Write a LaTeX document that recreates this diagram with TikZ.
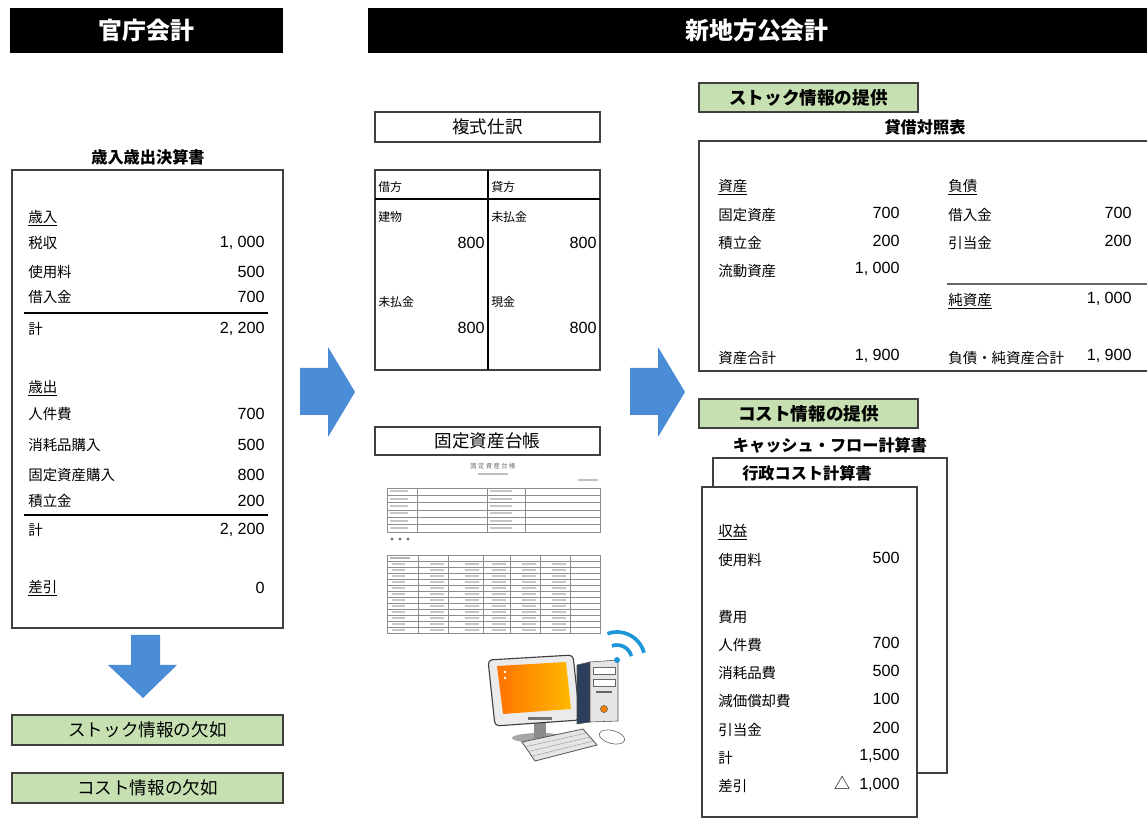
\documentclass[tikz,border=0pt]{standalone}
\usepackage{fontspec}
\setmainfont{Noto Sans CJK JP}
\newfontfamily\numfont{Liberation Sans}
\newfontfamily\jpfont{Noto Sans CJK JP}
\usetikzlibrary{calc}

\definecolor{infogreen}{RGB}{198,224,178}
\definecolor{arrowblue}{RGB}{74,141,214}
\definecolor{wifiblue}{RGB}{28,150,214}
\definecolor{towernavy}{RGB}{44,62,92}

\tikzset{
  bar/.style={text=white, font=\bfseries\fontsize{17}{17}\selectfont},
  sheet/.style={draw=black!75, line width=1.1pt, fill=white},
  tag/.style={draw=black!75, line width=1.1pt, fill=infogreen},
  tagtext/.style={font=\fontsize{12.5}{12.5}\selectfont},
  caption/.style={font=\bfseries\fontsize{11.5}{11.5}\selectfont},
  item/.style={anchor=west, inner sep=0, font=\fontsize{10.3}{10.3}\selectfont},
  jitem/.style={anchor=west, inner sep=0, font=\fontsize{8.5}{8.5}\selectfont},
  amount/.style={anchor=east, inner sep=0, font=\numfont\fontsize{11.5}{11.5}\selectfont},
  grid line/.style={draw=black!45, line width=0.3pt},
}

\begin{document}
\begin{tikzpicture}[x=0.025cm, y=-0.025cm]
    \useasboundingbox (0,0) rectangle (1147,819);

    % headers
    \fill (10,8) rectangle (283,53);
    \node[bar] (kancho) at (146.5,30.5) {官庁会計};
    \fill (368,8) rectangle (1147,53);
    \node[bar] (shinchiho) at (757,30.5) {新地方公会計};

    % ---- left: cash basis statement
    \node[caption] (kessanTitle) at (148,157) {歳入歳出決算書};
    \draw[sheet] (12,170) rectangle (283,628);
    \node[item] (revHead) at (28,218) {\underline{歳入}};
    \node[item] (expHead) at (28,388) {\underline{歳出}};
    \foreach \y/\lab/\num [count=\i] in {243/税収/{1, 000}, 272/使用料/500, 297/借入金/700, 329/計/{2, 200},
        414/人件費/700, 445/消耗品購入/500, 475/固定資産購入/800, 501/積立金/200, 530/計/{2, 200}}
    {
        \node[item] (kl\i) at (28,\y) {\lab};
        \node[amount] (ka\i) at (265,\y) {\num};
    }
    \draw[line width=1pt] (24,313) -- (268,313);
    \draw[line width=1pt] (24,515) -- (268,515);
    \node[item] (sashihiki) at (28,588) {\underline{差引}};
    \node[amount] (zero) at (265,588) {0};

    \fill[arrowblue] (131,635) -- (160,635) -- (160,665) -- (177,665) -- (143,698)
        -- (108,665) -- (131,665) -- cycle;

    \draw[tag] (12,715) rectangle (283,745);
    \node[tagtext] (stockLack) at (147.5,730) {ストック情報の欠如};
    \draw[tag] (12,773) rectangle (283,803);
    \node[tagtext] (costLack) at (147.5,788) {コスト情報の欠如};

    % ---- arrows into the middle and right
    \fill[arrowblue] (300,368) -- (328,368) -- (328,347) -- (355,392) -- (328,437) -- (328,415) -- (300,415) -- cycle;
    \fill[arrowblue] (630,368) -- (658,368) -- (658,347) -- (685,392) -- (658,437) -- (658,415) -- (630,415) -- cycle;

    % ---- middle: journal entry
    \draw[sheet] (375,112) rectangle (600,142);
    \node[tagtext] (fukushiki) at (487.5,127) {複式仕訳};
    \draw[sheet, line width=0.9pt] (375,170) rectangle (600,370);
    \draw[line width=0.9pt] (375,199) -- (600,199);
    \draw[line width=0.9pt] (488,170) -- (488,370);
    \node[jitem] (kari) at (378,187) {借方};
    \node[jitem] (kashi) at (491,187) {貸方};
    \node[jitem] (tatemono) at (378,217) {建物};
    \node[amount] (k1) at (485,243) {800};
    \node[jitem] (mibarai1) at (491,217) {未払金};
    \node[amount] (s1) at (597,243) {800};
    \node[jitem] (mibarai2) at (378,302) {未払金};
    \node[amount] (k2) at (485,328) {800};
    \node[jitem] (genkin) at (491,302) {現金};
    \node[amount] (s2) at (597,328) {800};

    % fixed asset ledger
    \draw[sheet] (375,427) rectangle (600,455);
    \node[tagtext] (daicho) at (487.5,441) {固定資産台帳};
    \node[text=black!60, font=\fontsize{4.5}{4.5}\selectfont] (miniTitle) at (493,466) {固 定 資 産 台 帳};
    \fill[black!25] (478,473) rectangle (508,475);
    \fill[black!25] (578,479) rectangle (598,481);
    \draw[grid line] (387,488) rectangle (600,532);
    \foreach \k in {1,...,5}
        \draw[grid line] (387,488+7.33*\k) -- (600,488+7.33*\k);
    \foreach \x in {417,487,525}
        \draw[grid line] (\x,488) -- (\x,532);
    \foreach \k in {0,...,5} {
        \fill[black!22] (390,490.5+7.33*\k) rectangle (408,492.5+7.33*\k);
        \fill[black!22] (490,490.5+7.33*\k) rectangle (512,492.5+7.33*\k);
    }
    \foreach \x in {392,400,408}
        \fill[black!55] (\x,539) circle (1.6);
    \draw[grid line] (387,555) rectangle (600,633);
    \foreach \k in {1,...,12}
        \draw[grid line] (387,555+6*\k) -- (600,555+6*\k);
    \foreach \x in {418,448,483,510,540,570}
        \draw[grid line] (\x,555) -- (\x,633);
    \foreach \k in {1,...,12} {
        \fill[black!22] (392,557.5+6*\k) rectangle (405,559+6*\k);
        \foreach \x in {448,483,510,540,570}
            \fill[black!22] (\x-18,557.5+6*\k) rectangle (\x-4,559+6*\k);
    }
    \fill[black!30] (390,557.5) rectangle (410,559.5);

    % computer
    \fill[black!35] (540,738) ellipse (28 and 5);
    \fill[black!45] (534,722) rectangle (546,738);
    \filldraw[fill=black!8, draw=black!75, line width=0.8pt, rounded corners=3]
        (488,660) -- (573,655) -- (580,720) -- (495,726) -- cycle;
    \shade[left color=orange!90!red, right color=orange!55!yellow]
        (497,666) -- (566,662) -- (571,709) -- (503,714) -- cycle;
    \fill[white] (505,672) circle (1.4);
    \fill[white] (505,678) circle (1.4);
    \fill[black!55] (528,717) rectangle (552,720);
    \filldraw[fill=towernavy, draw=black!70] (577,665) -- (590,662) -- (590,722) -- (577,724) -- cycle;
    \filldraw[fill=black!10, draw=black!70] (590,662) -- (618,660) -- (618,721) -- (590,722) -- cycle;
    \filldraw[fill=white, draw=black!60] (593,667) rectangle (615,674);
    \filldraw[fill=white, draw=black!60] (593,679) rectangle (615,686);
    \fill[black!60] (596,691) rectangle (612,693);
    \filldraw[fill=orange, draw=black!60] (604,709) circle (3.6);
    \filldraw[fill=black!10, draw=black!65, line width=0.6pt]
        (522,742) -- (583,729) -- (597,745) -- (535,761) -- cycle;
    \foreach \t in {0.25,0.5,0.75}
        \draw[black!40, line width=0.3pt] ($(522,742)!\t!(535,761)$) -- ($(583,729)!\t!(597,745)$);
    \filldraw[fill=white, draw=black!65, rotate around={-15:(612,737)}] (612,737) ellipse (13 and 6.5);
    \fill[wifiblue] (617,660) circle (3);
    \draw[wifiblue, line width=2.6pt] (617,660) ++(-110:15) arc[start angle=-110, end angle=-15, radius=15];
    \draw[wifiblue, line width=2.6pt] (617,660) ++(-110:28) arc[start angle=-110, end angle=-15, radius=28];

    % ---- right: balance sheet
    \draw[tag] (699,83) rectangle (918,112);
    \node[tagtext, font=\bfseries\fontsize{12.5}{12.5}\selectfont] (stockInfo) at (808.5,97.5) {ストック情報の提供};
    \node[caption] (taishakuTitle) at (925,127) {貸借対照表};
    \draw[draw=black!75, line width=1.1pt] (1147,141) -- (699,141) -- (699,371) -- (1147,371);
    \node[item] (shisan) at (718,187) {\underline{資産}};
    \node[item] (fusai) at (948,187) {\underline{負債}};
    \foreach \y/\lab/\num [count=\i] in {215/固定資産/700, 243/積立金/200, 271/流動資産/{1, 000}, 358/資産合計/{1, 900}}
    {
        \node[item] (bl\i) at (718,\y) {\lab};
        \node[amount] (ba\i) at (900,\y-2) {\num};
    }
    \foreach \y/\lab/\num [count=\i] in {215/借入金/700, 243/引当金/200, 358/負債・純資産合計/{1, 900}}
    {
        \node[item] (br\i) at (948,\y) {\lab};
        \node[amount] (bb\i) at (1132,\y-2) {\num};
    }
    \draw[draw=black!60, line width=1.2pt] (947,284) -- (1147,284);
    \node[item] (junshisan) at (948,301) {\underline{純資産}};
    \node[amount] (junAmt) at (1132,299) {1, 000};

    % cost statements
    \draw[tag] (699,399) rectangle (918,428);
    \node[tagtext, font=\bfseries\fontsize{12.5}{12.5}\selectfont] (costInfo) at (808.5,413.5) {コスト情報の提供};
    \node[caption] (cfTitle) at (830,445) {キャッシュ・フロー計算書};
    \draw[sheet] (713,458) rectangle (947,773);
    \node[caption] (gyoseiTitle) at (807,473) {行政コスト計算書};
    \draw[sheet] (702,487) rectangle (917,817);
    \node[item] (shueki) at (718,532) {\underline{収益}};
    \node[item] (hiyo) at (718,617) {費用};
    \foreach \y/\lab/\num [count=\i] in {560/使用料/500, 645/人件費/700, 673/消耗品費/500, 701/減価償却費/100,
        730/引当金/200, 758/計/{1,500}, 786/差引/{{\jpfont △}\ \ 1,000}}
    {
        \node[item] (cl\i) at (718,\y) {\lab};
        \node[amount] (ca\i) at (900,\y-2) {\num};
    }
\end{tikzpicture}
\end{document}
